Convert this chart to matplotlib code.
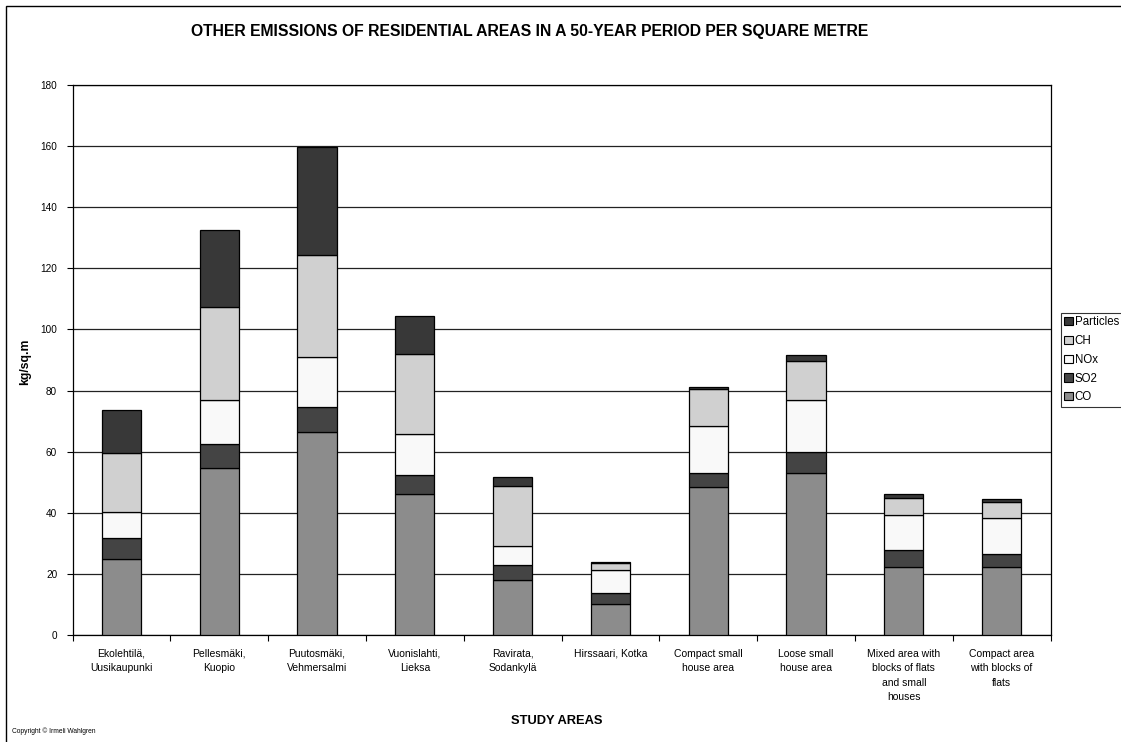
import matplotlib
matplotlib.use("Agg")
import matplotlib.pyplot as plt
from matplotlib.patches import Rectangle, Patch
import numpy as np

plt.rcParams['font.family'] = ['Liberation Sans', 'DejaVu Sans']

categories = ["Ekolehtilä,\nUusikaupunki", "Pellesmäki,\nKuopio", "Puutosmäki,\nVehmersalmi",
              "Vuonislahti,\nLieksa", "Ravirata,\nSodankylä", "Hirssaari, Kotka",
              "Compact small\nhouse area", "Loose small\nhouse area",
              "Mixed area with\nblocks of flats\nand small\nhouses",
              "Compact area\nwith blocks of\nflats"]
CO = [25.0, 54.8, 66.4, 46.2, 18.0, 10.1, 48.4, 53.0, 22.3, 22.2]
SO2 = [6.6, 7.8, 8.1, 6.3, 5.0, 3.7, 4.6, 6.8, 5.5, 4.4]
NOx = [8.6, 14.3, 16.4, 13.3, 6.1, 7.4, 15.3, 17.1, 11.5, 11.7]
CH = [19.4, 30.4, 33.6, 26.3, 19.5, 2.4, 12.2, 12.7, 5.5, 5.2]
Particles = [14.2, 25.3, 35.1, 12.4, 3.1, 0.3, 0.6, 2.0, 1.2, 1.0]
series_names = ["CO", "SO2", "NOx", "CH", "Particles"]
series_colors = ["#8c8c8c", "#444444", "#f9f9f9", "#d0d0d0", "#383838"]
yticks = [0, 20, 40, 60, 80, 100, 120, 140, 160, 180]

W, H = 1121, 742
fig = plt.figure(figsize=(W / 100, H / 100), dpi=100)
fig.patch.set_facecolor("white")

def fx(px):
    return px / W

def fy(py):
    return 1 - py / H

ax = fig.add_axes([fx(72.5), fy(635), fx(1050.5) - fx(72.5), fy(85) - fy(635)])

x = np.arange(len(categories))
bottom = np.zeros(len(categories))
handles = []
for name, vals, col in zip(series_names, [CO, SO2, NOx, CH, Particles], series_colors):
    ax.bar(x, vals, width=0.4, bottom=bottom, color=col, edgecolor="black",
           linewidth=0.9, zorder=3)
    bottom = bottom + np.array(vals)
    handles.append(Patch(facecolor=col, edgecolor="black", linewidth=0.8, label=name))

ax.set_xlim(-0.5, len(categories) - 0.5)
ax.set_ylim(0, 180)
ax.set_yticks(yticks)
ax.set_yticklabels([str(v) for v in yticks], fontsize=7.2)
ax.yaxis.grid(True, color="#222222", linewidth=0.9, zorder=0)
ax.set_axisbelow(True)

ax.set_xticks(x)
ax.set_xticklabels(categories, fontsize=7.5, linespacing=1.55, va="top")
ax.tick_params(axis="x", which="major", length=0, pad=10)
ax.set_xticks(np.arange(-0.5, len(categories)), minor=True)
ax.tick_params(axis="x", which="minor", length=4, width=0.8, direction="out")
ax.tick_params(axis="y", length=4, width=0.8, direction="out", pad=7)

for s in ax.spines.values():
    s.set_linewidth(0.9)
    s.set_color("black")

fig.text(fx(529.5), fy(31.5), "OTHER EMISSIONS OF RESIDENTIAL AREAS IN A 50-YEAR PERIOD PER SQUARE METRE",
         ha="center", va="center", fontsize=11.3, fontweight="bold")
fig.text(fx(557), fy(721.5), "STUDY AREAS", ha="center", va="center",
         fontsize=9.3, fontweight="bold")
fig.text(fx(25), fy(362), "kg/sq.m", ha="center", va="center", rotation=90,
         fontsize=8.8, fontweight="bold")
fig.text(fx(12), fy(731), "Copyright © Irmeli Wahlgren", ha="left", va="center",
         fontsize=4.8)

leg = fig.legend(handles=handles[::-1], loc="upper left",
                 bbox_to_anchor=(fx(1061), fy(313)), fontsize=8.3,
                 frameon=True, fancybox=False, handlelength=0.7, handleheight=0.7,
                 handletextpad=0.2, labelspacing=0.58, borderpad=0.3,
                 borderaxespad=0)
leg.get_frame().set_edgecolor("black")
leg.get_frame().set_linewidth(0.8)

fig.patches.append(Rectangle((fx(5.5), fy(760)), fx(1140) - fx(5.5), fy(5.5) - fy(760),
                             transform=fig.transFigure, fill=False,
                             edgecolor="black", linewidth=1.0))

fig.savefig("out.png", dpi=100)
